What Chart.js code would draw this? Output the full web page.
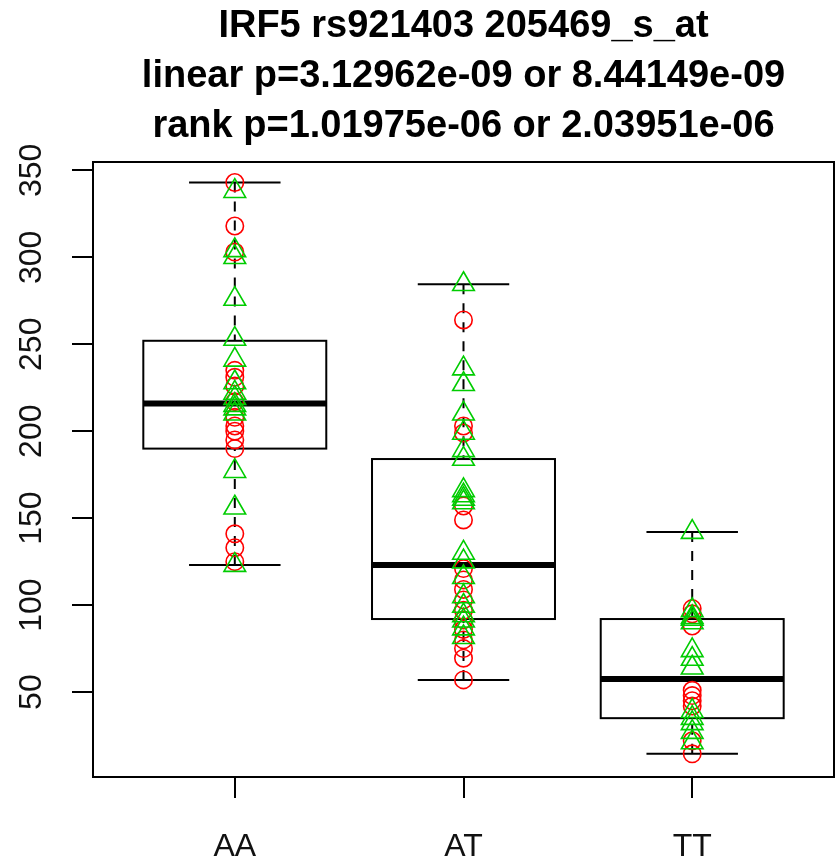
<!DOCTYPE html>
<html>
<head>
<meta charset="utf-8">
<script src="https://cdn.jsdelivr.net/npm/chart.js@4/dist/chart.umd.min.js"></script>
<style>
  html, body { margin: 0; padding: 0; background: #fff; }
  canvas { display: block; }
</style>
</head>
<body>
<canvas id="chart" width="836" height="858"></canvas>
<script>
// Genotype groups along the x axis
const categories = ['AA', 'AT', 'TT'];

// Three-line heading
const titleLines = [
  'IRF5 rs921403 205469_s_at',
  'linear p=3.12962e-09 or 8.44149e-09',
  'rank p=1.01975e-06 or 2.03951e-06'
];

// Expression axis tick labels
const yTicks = [50, 100, 150, 200, 250, 300, 350];

// Individual expression values per genotype (red circles / green triangles)
const redCircles = [
  [343, 318, 303, 235, 231, 226, 217, 208, 203, 200, 195, 190, 141, 133, 125],
  [264, 203, 199, 157, 149, 121, 114.5, 109, 103, 97, 91.5, 86, 80, 75, 69.5, 57],
  [98, 95, 88, 51, 48, 45, 42, 22, 14.5]
];
const greenTriangles = [
  [338, 304, 300, 276, 253, 241, 228, 222, 219, 215, 213, 210, 177, 156, 123],
  [284.5, 236, 227, 210, 199, 189, 184, 166, 163, 161, 159, 130, 125, 116, 105, 99.5, 94, 91, 86.5, 81.5],
  [142, 97, 93, 92, 90, 74, 69, 64, 39, 35, 32, 27, 21]
];

// Box summaries per genotype
const whiskerLow  = [123, 57, 14.5];
const hingeLow    = [190, 92, 35];
const medians     = [216, 123, 57.5];
const hingeHigh   = [252, 184, 92];
const whiskerHigh = [343, 284.5, 142];

const toPoints = groups => groups.flatMap((vals, i) => vals.map(v => ({ x: i + 1, y: v })));

// Boxes, whiskers, frame and heading drawn on the chart's own scales
const boxPlotPlugin = {
  id: 'boxPlot',
  beforeDatasetsDraw(chart) {
    const { ctx, scales: { x, y } } = chart;
    ctx.save();
    ctx.strokeStyle = '#000';
    categories.forEach((cat, i) => {
      const cx = x.getPixelForValue(i + 1);
      const half = x.getPixelForValue(i + 1.4) - cx;
      const capHalf = half / 2;
      const yLo = y.getPixelForValue(whiskerLow[i]);
      const yQ1 = y.getPixelForValue(hingeLow[i]);
      const yMed = y.getPixelForValue(medians[i]);
      const yQ3 = y.getPixelForValue(hingeHigh[i]);
      const yHi = y.getPixelForValue(whiskerHigh[i]);

      // dashed whiskers
      ctx.lineWidth = 2;
      ctx.setLineDash([10, 9]);
      ctx.beginPath();
      ctx.moveTo(cx, yHi); ctx.lineTo(cx, yQ3);
      ctx.moveTo(cx, yLo); ctx.lineTo(cx, yQ1);
      ctx.stroke();
      ctx.setLineDash([]);

      // whisker caps
      ctx.beginPath();
      ctx.moveTo(cx - capHalf, yHi); ctx.lineTo(cx + capHalf, yHi);
      ctx.moveTo(cx - capHalf, yLo); ctx.lineTo(cx + capHalf, yLo);
      ctx.stroke();

      // box
      ctx.strokeRect(cx - half, yQ3, 2 * half, yQ1 - yQ3);

      // median
      ctx.lineWidth = 6;
      ctx.beginPath();
      ctx.moveTo(cx - half, yMed); ctx.lineTo(cx + half, yMed);
      ctx.stroke();
    });
    ctx.restore();
  },
  afterDraw(chart) {
    const { ctx, chartArea: a } = chart;
    ctx.save();
    // plot frame
    ctx.strokeStyle = '#000';
    ctx.lineWidth = 2;
    ctx.strokeRect(a.left, a.top, a.right - a.left, a.bottom - a.top);
    // heading, centred over the plot region
    ctx.fillStyle = '#000';
    ctx.font = 'bold 38px "Liberation Sans", Arial, sans-serif';
    ctx.textAlign = 'center';
    ctx.textBaseline = 'alphabetic';
    const cx = (a.left + a.right) / 2;
    titleLines.forEach((line, i) => ctx.fillText(line, cx, 37 + i * 50));
    ctx.restore();
  }
};

new Chart(document.getElementById('chart'), {
  type: 'scatter',
  data: {
    datasets: [
      {
        label: 'circles',
        data: toPoints(redCircles),
        pointStyle: 'circle',
        pointRadius: 8.7,
        borderColor: '#ff0000',
        backgroundColor: 'rgba(0,0,0,0)',
        borderWidth: 1.6,
        order: 1
      },
      {
        label: 'triangles',
        data: toPoints(greenTriangles),
        pointStyle: 'triangle',
        pointRadius: 12.5,
        borderColor: '#00cc00',
        backgroundColor: 'rgba(0,0,0,0)',
        borderWidth: 1.6,
        order: 0
      }
    ]
  },
  options: {
    responsive: false,
    animation: false,
    devicePixelRatio: 1,
    events: [],
    layout: { autoPadding: false, padding: { top: 162, right: 2, left: 0, bottom: 0 } },
    plugins: {
      legend: { display: false },
      title: { display: false },
      tooltip: { enabled: false }
    },
    scales: {
      x: {
        type: 'linear',
        min: 0.38,
        max: 3.62,
        border: { display: false },
        grid: { display: true, drawOnChartArea: false, drawTicks: true, tickLength: 21, color: '#000', lineWidth: 2 },
        afterBuildTicks: scale => { scale.ticks = categories.map((c, i) => ({ value: i + 1 })); },
        afterFit: scale => {
          scale.height = 81;
          scale.paddingLeft = 0;
          scale.paddingRight = 0;
        },
        ticks: {
          autoSkip: false,
          maxRotation: 0,
          padding: 30,
          color: '#111',
          font: { family: '"Liberation Sans", Arial, sans-serif', size: 32 },
          callback: (value, index) => categories[index]
        }
      },
      y: {
        type: 'linear',
        min: 1.17,
        max: 354.8,
        border: { display: false },
        grid: { display: true, drawOnChartArea: false, drawTicks: true, tickLength: 21, color: '#000', lineWidth: 2 },
        afterBuildTicks: scale => { scale.ticks = yTicks.map(v => ({ value: v })); },
        afterFit: scale => {
          scale.width = 93;
          scale.paddingTop = 0;
          scale.paddingBottom = 0;
        },
        ticks: {
          minRotation: 90,
          maxRotation: 90,
          crossAlign: 'center',
          padding: 13,
          color: '#111',
          font: { family: '"Liberation Sans", Arial, sans-serif', size: 32 },
          callback: v => String(v)
        }
      }
    }
  },
  plugins: [boxPlotPlugin]
});
</script>
</body>
</html>
